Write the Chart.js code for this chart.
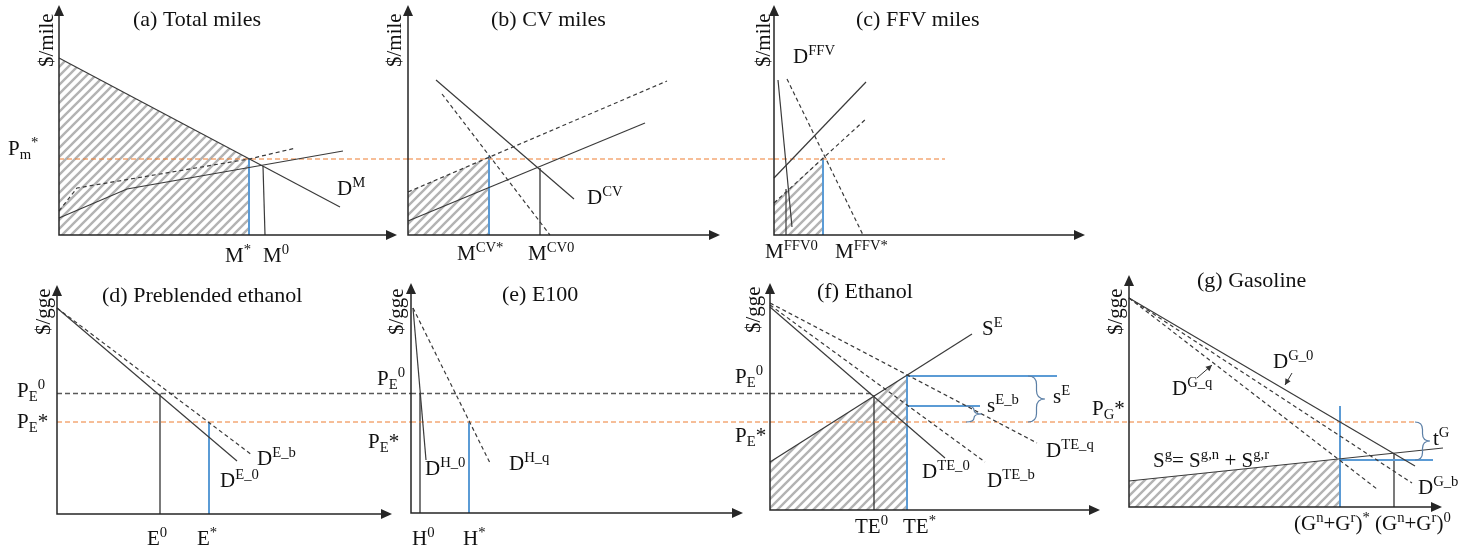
<!DOCTYPE html>
<html>
<head>
<meta charset="utf-8">
<script src="https://cdn.jsdelivr.net/npm/chart.js@4.4.1/dist/chart.umd.min.js"></script>
<style>
  html, body { margin: 0; padding: 0; background: #fff; }
  #wrap { position: relative; width: 1477px; height: 548px; overflow: hidden; }
  canvas { position: absolute; }
</style>
</head>
<body>
<div id="wrap"></div>
<script>
// every panel: quantity on x, price on y, origin at the axes corner

// (a) Total miles
const aAxes = [33.8, 23.0];
const aDemand = [[0, 17.7], [28.1, 2.8]];
const aSupply = [[0, 1.7], [6.8, 4.6], [28.4, 8.4]];
const aSupplyNew = [[0, 2.4], [1.8, 4.7], [19.0, 7.6], [23.7, 8.7]];
const aPrice = [[0, 7.6], [34.9, 7.6]];
const aStar = [[19.0, 0], [19.0, 7.6]];
const aZero = [[20.6, 0], [20.4, 6.9]];
const aArea = [[0, 17.7], [19.0, 7.6]];

// (b) CV miles
const bAxes = [31.2, 23.0];
const bDemand = [[2.8, 15.5], [16.6, 3.6]];
const bDemandNew = [[3.4, 14.1], [14.2, 0]];
const bSupply = [[0, 1.4], [23.7, 11.2]];
const bSupplyNew = [[0, 4.3], [25.9, 15.4]];
const bPrice = [[0, 7.6], [36.6, 7.6]];
const bStar = [[8.1, 0], [8.1, 7.9]];
const bZero = [[13.2, 0], [13.2, 6.7]];
const bArea = [[0, 4.3], [8.1, 7.8]];

// (c) FFV miles
const cAxes = [31.1, 23.0];
const cDemand = [[0.4, 15.5], [1.8, 0.8]];
const cDemandNew = [[1.3, 15.6], [8.9, 0]];
const cSupply = [[0, 5.7], [9.2, 15.3]];
const cSupplyNew = [[0, 3.2], [9.3, 11.7]];
const cPrice = [[0, 7.6], [17.1, 7.6]];
const cStar = [[4.9, 0], [4.9, 7.7]];
const cZero = [[1.2, 0], [1.2, 4.6]];
const cArea = [[0, 3.2], [4.9, 7.7]];

// (d) Preblended ethanol
const dAxes = [33.5, 22.9];
const dDemand0 = [[0, 20.6], [18.0, 5.3]];
const dDemandB = [[0, 20.6], [19.5, 5.9]];
const dPrice0 = [[0, 12.05], [35.4, 12.05]];
const dPriceStar = [[0, 9.2], [35.4, 9.2]];
const dZero = [[10.3, 0], [10.3, 12.05]];
const dStar = [[15.2, 0], [15.2, 9.2]];

// (e) E100
const eAxes = [33.2, 23.0];
const eDemand0 = [[0.2, 20.5], [1.5, 5.3]];
const eDemandQ = [[0.2, 20.5], [7.9, 5.0]];
const ePrice0 = [[0, 11.95], [35.9, 11.95]];
const ePriceStar = [[0, 9.1], [35.9, 9.1]];
const eZero = [[0.9, 0], [0.9, 11.95]];
const eStar = [[5.8, 0], [5.8, 9.1]];

// (f) Ethanol
const fAxes = [33.0, 22.7];
const fSupply = [[0, 4.8], [20.2, 17.6]];
const fDemand0 = [[0, 20.3], [17.5, 5.2]];
const fDemandB = [[0, 20.5], [21.5, 4.8]];
const fDemandQ = [[0, 20.7], [26.7, 6.7]];
const fPrice0 = [[0, 11.65], [10.4, 11.65]];
const fPriceStar = [[0, 8.8], [35.9, 8.8]];
const fZero = [[10.4, 0], [10.4, 11.5]];
const fStar = [[13.7, 0], [13.7, 13.4]];
const fSubsidy = [[13.7, 13.4], [28.7, 13.4]];
const fSubsidyB = [[13.7, 10.4], [21.0, 10.4]];
const fArea = [[0, 4.8], [13.7, 13.5]];
const fBraces = [[25.8, 27.5, 13.4, 8.8], [19.6, 21.2, 10.4, 8.8]];

// (g) Gasoline
const gAxes = [31.3, 23.2];
const gDemand0 = [[0, 20.9], [28.6, 4.1]];
const gDemandQ = [[0, 20.9], [24.8, 1.8]];
const gDemandB = [[0, 20.9], [28.3, 2.4]];
const gSupply = [[0, 2.6], [31.4, 5.9]];
const gPriceStar = [[0, 8.5], [28.6, 8.5]];
const gStar = [[21.1, 0], [21.1, 10.1]];
const gStarH = [[21.1, 4.7], [30.4, 4.7]];
const gZero = [[26.5, 0], [26.5, 5.4]];
const gArea = [[0, 2.6], [21.1, 4.8]];
const gBraces = [[28.6, 30.1, 8.5, 4.7]];
const gPointers = [[[6.8, 12.9], [8.3, 14.2]], [[16.3, 13.4], [15.6, 12.2]]];

const U = 10; // px per unit
const FONT = '"Liberation Serif", "Times New Roman", serif';

const styles = {
  solid:  { borderColor: '#3a3a3a', borderWidth: 1.2 },
  dash:   { borderColor: '#3a3a3a', borderWidth: 1.2, borderDash: [4, 3] },
  orange: { borderColor: '#ed7d31', borderWidth: 1, borderDash: [5, 3] },
  gref:   { borderColor: '#595959', borderWidth: 1.5, borderDash: [5, 3] },
  blue:   { borderColor: '#5b9bd5', borderWidth: 2 },
  black:  { borderColor: '#222', borderWidth: 1.2 }
};

function hatchPattern() {
  const p = 9, c = document.createElement('canvas');
  c.width = p; c.height = p;
  const g = c.getContext('2d');
  g.strokeStyle = '#b3b3b3';
  g.lineWidth = 2.4;
  g.beginPath();
  g.moveTo(-1, p + 1); g.lineTo(p + 1, -1);
  g.moveTo(-p / 2 - 1, p / 2 + 1); g.lineTo(p / 2 + 1, -p / 2 - 1);
  g.moveTo(p / 2 - 1, p * 1.5 + 1); g.lineTo(p * 1.5 + 1, p / 2 - 1);
  g.stroke();
  return g.createPattern(c, 'repeat');
}
const HATCH = hatchPattern();

const panels = [
  { id: 'a', box: [0, 0, 410, 270], origin: [59, 235], axes: aAxes,
    lines: [[aArea, 'hatch'], [aDemand, 'solid'], [aSupply, 'solid'], [aSupplyNew, 'dash'],
            [aPrice, 'orange'], [aStar, 'blue'], [aZero, 'solid']],
    labels: [['(a) Total miles', 7.4, 20.9, 22], ['P_{m}^{*}', -5.1, 8.0], ['D^{M}', 27.8, 4.0],
             ['M^{*}', 16.6, -2.7], ['M^{0}', 20.4, -2.7]],
    rot: [['$/mile', -0.6, 16.8]] },
  { id: 'b', box: [380, 0, 395, 270], origin: [408, 235], axes: bAxes,
    lines: [[bArea, 'hatch'], [bDemand, 'solid'], [bDemandNew, 'dash'], [bSupply, 'solid'],
            [bSupplyNew, 'dash'], [bPrice, 'orange'], [bStar, 'blue'], [bZero, 'black']],
    labels: [['(b) CV miles', 8.3, 20.9, 22], ['D^{CV}', 17.9, 3.1],
             ['M^{CV*}', 4.9, -2.5], ['M^{CV0}', 12.0, -2.5]],
    rot: [['$/mile', -0.7, 16.8]] },
  { id: 'c', box: [745, 0, 360, 270], origin: [774, 235], axes: cAxes,
    lines: [[cArea, 'hatch'], [cDemand, 'solid'], [cDemandNew, 'dash'], [cSupply, 'solid'],
            [cSupplyNew, 'dash'], [cPrice, 'orange'], [cStar, 'blue'], [cZero, 'solid']],
    labels: [['(c) FFV miles', 8.2, 20.9, 22], ['D^{FFV}', 1.9, 17.2],
             ['M^{FFV0}', -0.9, -2.3], ['M^{FFV*}', 6.1, -2.3]],
    rot: [['$/mile', -0.4, 16.8]] },
  { id: 'd', box: [0, 270, 412, 278], origin: [57, 514], axes: dAxes,
    lines: [[dDemand0, 'solid'], [dDemandB, 'dash'], [dPrice0, 'gref'], [dPriceStar, 'orange'],
            [dZero, 'black'], [dStar, 'blue']],
    labels: [['(d) Preblended ethanol', 4.5, 21.2, 22], ['P_{E}^{0}', -4.0, 11.7], ['P_{E}*', -4.0, 8.6],
             ['D^{E_b}', 20.0, 4.9], ['D^{E_0}', 16.3, 2.7], ['E^{0}', 9.0, -3.1], ['E^{*}', 14.0, -3.1]],
    rot: [['$/gge', -0.7, 17.9]] },
  { id: 'e', box: [360, 270, 412, 278], origin: [411, 513], axes: eAxes,
    lines: [[eDemand0, 'solid'], [eDemandQ, 'dash'], [ePrice0, 'gref'], [ePriceStar, 'orange'],
            [eZero, 'black'], [eStar, 'blue']],
    labels: [['(e) E100', 9.1, 21.2, 22], ['P_{E}^{0}', -3.4, 12.8], ['P_{E}*', -4.3, 6.5],
             ['D^{H_0}', 1.4, 3.8], ['D^{H_q}', 9.8, 4.3], ['H^{0}', 0.1, -3.2], ['H^{*}', 5.2, -3.2]],
    rot: [['$/gge', -0.8, 17.8]] },
  { id: 'f', box: [720, 270, 410, 278], origin: [770, 510], axes: fAxes,
    lines: [[fArea, 'hatch'], [fSupply, 'solid'], [fDemand0, 'solid'], [fDemandB, 'dash'], [fDemandQ, 'dash'],
            [fPrice0, 'gref'], [fPriceStar, 'orange'], [fZero, 'black'], [fStar, 'blue'],
            [fSubsidy, 'blue'], [fSubsidyB, 'blue']],
    labels: [['(f) Ethanol', 4.7, 21.2, 22], ['P_{E}^{0}', -3.5, 12.7], ['P_{E}*', -3.5, 6.8],
             ['S^{E}', 21.2, 17.5], ['s^{E}', 28.3, 10.7], ['s^{E_b}', 21.7, 9.8],
             ['D^{TE_q}', 27.6, 5.3], ['D^{TE_0}', 15.2, 3.2], ['D^{TE_b}', 21.7, 2.3],
             ['TE^{0}', 8.5, -2.3], ['TE^{*}', 13.3, -2.3]],
    rot: [['$/gge', -1.0, 17.7]], braces: fBraces },
  { id: 'g', box: [1085, 270, 392, 278], origin: [1129, 507], axes: gAxes,
    lines: [[gArea, 'hatch'], [gDemand0, 'solid'], [gDemandQ, 'dash'], [gDemandB, 'dash'], [gSupply, 'solid'],
            [gPriceStar, 'orange'], [gStar, 'blue'], [gStarH, 'blue'], [gZero, 'black']],
    labels: [['(g) Gasoline', 6.8, 22.0, 22], ['P_{G}*', -3.7, 9.2], ['D^{G_0}', 14.4, 13.9],
             ['D^{G_q}', 4.3, 11.2], ['t^{G}', 30.4, 6.2], ['S^g= S^{g,n} + S^{g,r}', 2.4, 4.0],
             ['D^{G_b}', 28.9, 1.3], ['(G^n+G^r)^* (G^n+G^r)^0', 16.5, -2.3]],
    rot: [['$/gge', -0.7, 17.2]], braces: gBraces, pointers: gPointers }
];

function drawRich(ctx, str, x, y, size) {
  const segs = [];
  let i = 0, buf = '';
  while (i < str.length) {
    const ch = str[i];
    if (ch === '^' || ch === '_') {
      if (buf) { segs.push([buf, 0]); buf = ''; }
      let t;
      if (str[i + 1] === '{') { const j = str.indexOf('}', i); t = str.slice(i + 2, j); i = j + 1; }
      else { t = str[i + 1]; i += 2; }
      segs.push([t, ch === '^' ? 1 : -1]);
    } else { buf += ch; i++; }
  }
  if (buf) segs.push([buf, 0]);
  let cx = x;
  for (const [t, k] of segs) {
    const fs = k ? size * 0.7 : size;
    ctx.font = fs + 'px ' + FONT;
    const dy = k === 1 ? -size * 0.36 : (k === -1 ? size * 0.2 : 0);
    ctx.fillText(t, cx, y + dy);
    cx += ctx.measureText(t).width;
  }
}

function brace(ctx, x, tip, y1, y2) {
  const m = (y1 + y2) / 2, h = (tip - x) / 2, q = Math.min(h, Math.abs(y2 - y1) / 4);
  ctx.beginPath();
  ctx.moveTo(x, y1);
  ctx.quadraticCurveTo(x + h, y1, x + h, y1 + q);
  ctx.lineTo(x + h, m - q);
  ctx.quadraticCurveTo(x + h, m, tip, m);
  ctx.quadraticCurveTo(x + h, m, x + h, m + q);
  ctx.lineTo(x + h, y2 - q);
  ctx.quadraticCurveTo(x + h, y2, x, y2);
  ctx.stroke();
}

function head(ctx, x, y, ang, len, hw) {
  ctx.save();
  ctx.translate(x, y);
  ctx.rotate(ang);
  ctx.beginPath();
  ctx.moveTo(0, 0);
  ctx.lineTo(-len, -hw);
  ctx.lineTo(-len, hw);
  ctx.closePath();
  ctx.fill();
  ctx.restore();
}

function decor(p) {
  return {
    id: 'decor_' + p.id,
    afterDatasetsDraw(chart) {
      const ctx = chart.ctx;
      const X = v => chart.scales.x.getPixelForValue(v);
      const Y = v => chart.scales.y.getPixelForValue(v);
      ctx.save();
      // axes with arrow heads
      const [xe, ye] = p.axes;
      ctx.strokeStyle = '#262626';
      ctx.fillStyle = '#262626';
      ctx.lineWidth = 1.5;
      ctx.beginPath();
      ctx.moveTo(X(0), Y(ye) + 9);
      ctx.lineTo(X(0), Y(0));
      ctx.lineTo(X(xe) - 9, Y(0));
      ctx.stroke();
      head(ctx, X(0), Y(ye), -Math.PI / 2, 11, 5);
      head(ctx, X(xe), Y(0), 0, 11, 5);

      // braces
      ctx.strokeStyle = '#5b7fa6';
      ctx.lineWidth = 1.2;
      (p.braces || []).forEach(([x0, x1, y1, y2]) => brace(ctx, X(x0), X(x1), Y(y1), Y(y2)));

      // small pointers
      ctx.strokeStyle = '#333';
      ctx.fillStyle = '#333';
      ctx.lineWidth = 1;
      (p.pointers || []).forEach(([a, b]) => {
        const ax = X(a[0]), ay = Y(a[1]), bx = X(b[0]), by = Y(b[1]);
        ctx.beginPath(); ctx.moveTo(ax, ay); ctx.lineTo(bx, by); ctx.stroke();
        head(ctx, bx, by, Math.atan2(by - ay, bx - ax), 6, 3);
      });

      // text
      ctx.fillStyle = '#111';
      ctx.textAlign = 'left';
      ctx.textBaseline = 'alphabetic';
      p.labels.forEach(([t, x, y, s]) => drawRich(ctx, t, X(x), Y(y), s || 21));
      p.rot.forEach(([t, x, y]) => {
        ctx.save();
        ctx.translate(X(x), Y(y));
        ctx.rotate(-Math.PI / 2);
        ctx.font = '21px ' + FONT;
        ctx.fillText(t, 0, 0);
        ctx.restore();
      });
      ctx.restore();
    }
  };
}

const wrap = document.getElementById('wrap');
panels.forEach(p => {
  const [bl, bt, bw, bh] = p.box;
  const [ox, oy] = p.origin;
  const cv = document.createElement('canvas');
  cv.width = bw; cv.height = bh;
  cv.style.left = bl + 'px'; cv.style.top = bt + 'px';
  wrap.appendChild(cv);

  const datasets = p.lines.map(([pts, st]) => {
    const data = pts.map(([x, y]) => ({ x, y }));
    if (st === 'hatch') {
      return { data, showLine: true, pointRadius: 0, borderWidth: 0, borderColor: 'rgba(0,0,0,0)',
               backgroundColor: HATCH, fill: { value: 0 }, order: 10 };
    }
    return Object.assign({ data, showLine: true, pointRadius: 0, fill: false, tension: 0, order: 1 }, styles[st]);
  });

  new Chart(cv, {
    type: 'scatter',
    data: { datasets },
    options: {
      responsive: false,
      animation: false,
      events: [],
      layout: { padding: 0 },
      plugins: { legend: { display: false }, tooltip: { enabled: false } },
      scales: {
        x: { type: 'linear', display: false, bounds: 'data', min: (bl - ox) / U, max: (bl + bw - ox) / U },
        y: { type: 'linear', display: false, bounds: 'data', min: (oy - bt - bh) / U, max: (oy - bt) / U }
      }
    },
    plugins: [decor(p)]
  });
});
</script>
</body>
</html>
